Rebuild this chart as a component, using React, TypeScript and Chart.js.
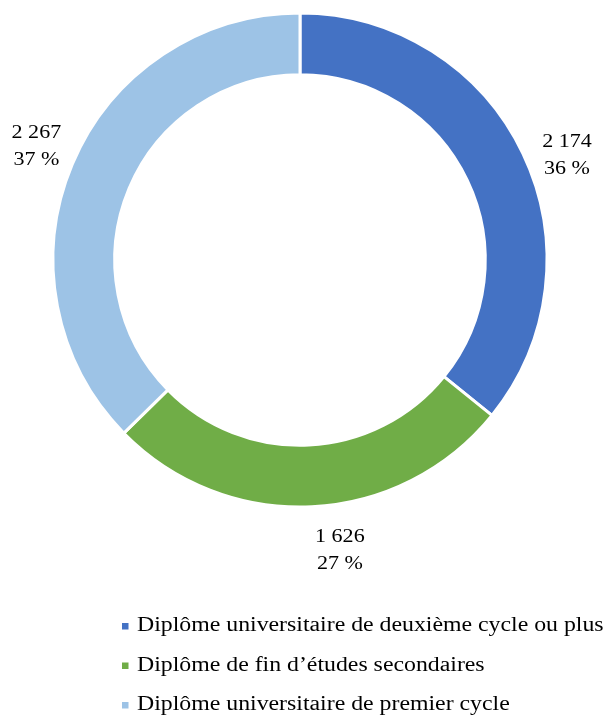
import React, { useEffect, useRef } from "react";
import { Chart, registerables } from "chart.js";

Chart.register(...registerables);

const categories: string[] = [
  "Diplôme universitaire de deuxième cycle ou plus",
  "Diplôme de fin d’études secondaires",
  "Diplôme universitaire de premier cycle",
];
const values: number[] = [2174, 1626, 2267];
const colors: string[] = ["#4472C4", "#70AD47", "#9DC3E6"];

const FONT = '"Liberation Serif", "Times New Roman", serif';

function fmt(n: number): string {
  return String(n).replace(/\B(?=(\d{3})+(?!\d))/g, " ");
}

function stretchedText(ctx: CanvasRenderingContext2D, text: string, x: number, y: number, sx: number) {
  ctx.save();
  ctx.translate(x, y);
  ctx.scale(sx, 1);
  ctx.fillText(text, 0, 0);
  ctx.restore();
}

// manual label nudges (like hand-placed Excel data labels), in px
const labelNudge: [number, number][] = [
  [7, 20],
  [26, 3],
  [2, -2],
];

const labelPlugin = {
  id: "outsideLabels",
  afterDatasetsDraw(chart: any) {
    const ctx = chart.ctx as CanvasRenderingContext2D;
    const meta = chart.getDatasetMeta(0);
    const data = chart.data.datasets[0].data as number[];
    const total = data.reduce((a, b) => a + b, 0);
    ctx.save();
    ctx.fillStyle = "#000";
    ctx.font = `19px ${FONT}`;
    ctx.textAlign = "center";
    ctx.textBaseline = "middle";
    meta.data.forEach((arc: any, i: number) => {
      const p = arc.getProps(["x", "y", "startAngle", "endAngle", "outerRadius"], true);
      const mid = (p.startAngle + p.endAngle) / 2;
      const d = p.outerRadius + 41;
      const n = labelNudge[i] || [0, 0];
      const x = p.x + d * Math.cos(mid) + n[0];
      const y = p.y + d * Math.sin(mid) + n[1];
      stretchedText(ctx, fmt(data[i]), x, y - 13.5, 1.16);
      stretchedText(ctx, `${Math.round((data[i] / total) * 100)} %`, x, y + 13.5, 1.16);
    });
    ctx.restore();
  },
};

const legendPlugin = {
  id: "customLegend",
  afterDraw(chart: any) {
    const ctx = chart.ctx as CanvasRenderingContext2D;
    const labels = chart.data.labels as string[];
    const bg = chart.data.datasets[0].backgroundColor as string[];
    const startX = 122;
    const startY = 626;
    const rowH = 39.5;
    ctx.save();
    ctx.font = `20px ${FONT}`;
    ctx.textBaseline = "middle";
    ctx.textAlign = "left";
    labels.forEach((lab, i) => {
      const y = startY + i * rowH;
      ctx.fillStyle = bg[i];
      ctx.fillRect(startX, y - 3, 6.5, 6.5);
      ctx.fillStyle = "#000";
      stretchedText(ctx, lab, startX + 15, y, 1.19);
    });
    ctx.restore();
  },
};

export default function App() {
  const ref = useRef<HTMLCanvasElement | null>(null);
  useEffect(() => {
    if (!ref.current) return;
    const chart = new Chart(ref.current, {
      type: "doughnut",
      data: {
        labels: categories,
        datasets: [
          {
            data: values,
            backgroundColor: colors,
            borderColor: "#ffffff",
            borderWidth: 3,
          },
        ],
      },
      options: {
        animation: false,
        responsive: true,
        maintainAspectRatio: false,
        cutout: "75%",
        layout: {
          padding: { left: 51.5, right: 59.5, top: 11.5, bottom: 213.5 },
        },
        plugins: {
          legend: { display: false },
          tooltip: { enabled: false },
        },
      },
      plugins: [labelPlugin, legendPlugin],
    });
    return () => chart.destroy();
  }, []);
  return (
    <div style={{ position: "absolute", left: 0, top: 0, width: 608, height: 722, background: "#fff" }}>
      <canvas ref={ref} />
    </div>
  );
}
